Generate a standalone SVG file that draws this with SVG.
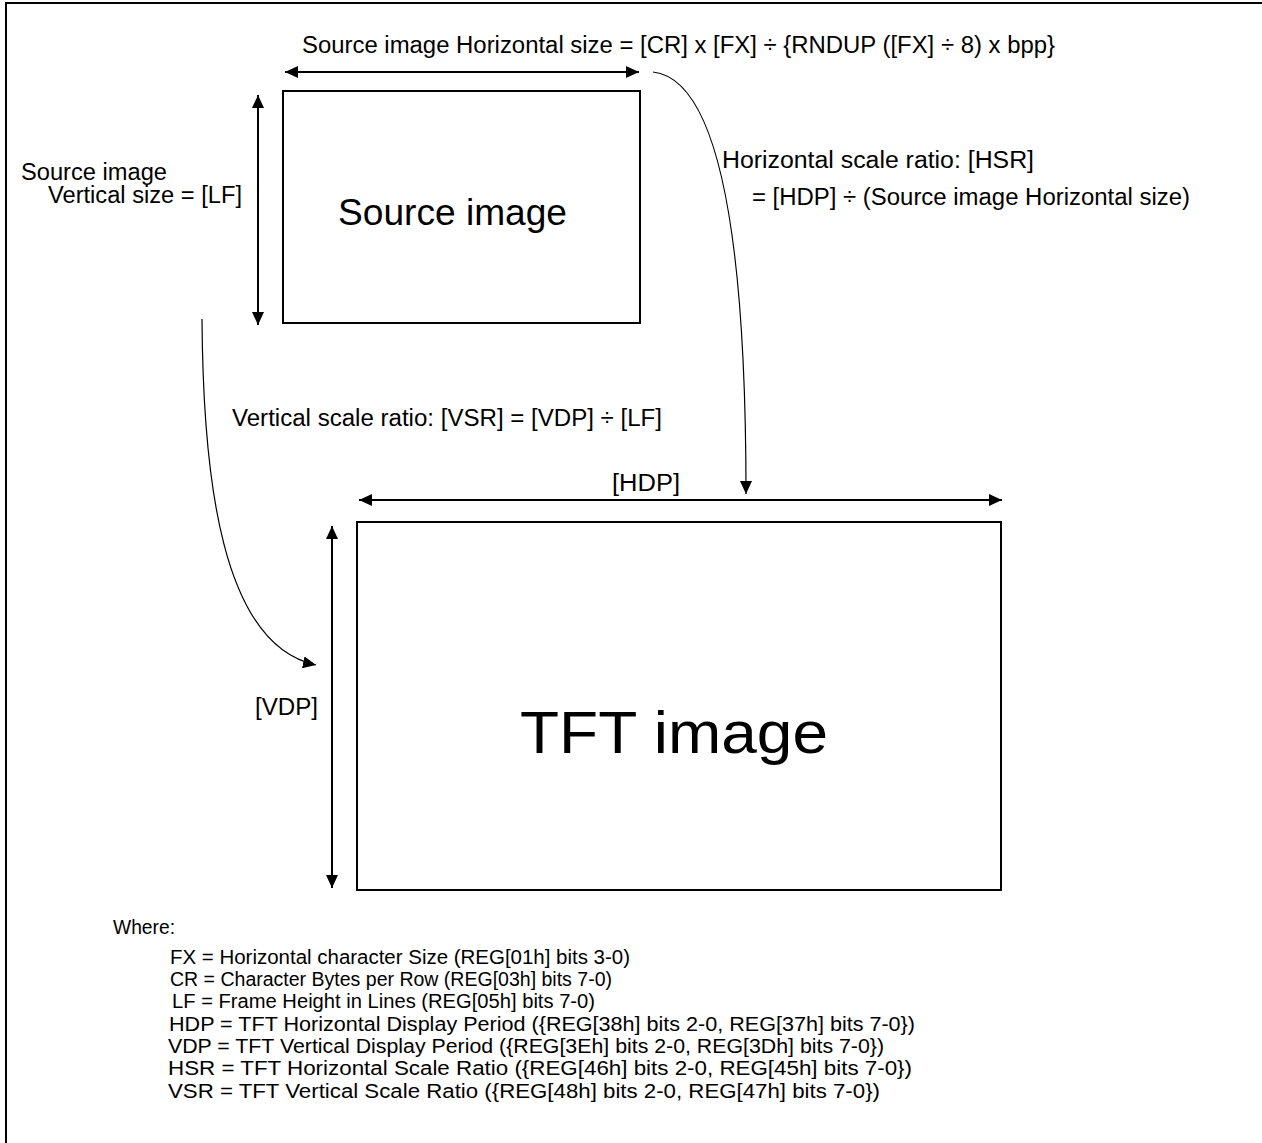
<svg xmlns="http://www.w3.org/2000/svg" width="1262" height="1143" viewBox="0 0 1262 1143">
<style>
  text { font-family: "Liberation Sans", Arial, sans-serif; fill: #000; }
  .lbl { font-size: 23px; }
  .lst { font-size: 20px; }
  .box { fill: #fff; stroke: #000; stroke-width: 2; }
  .dim { fill: none; stroke: #000; stroke-width: 2; }
  .crv { fill: none; stroke: #000; stroke-width: 1.2; }
</style>
<defs>
  <marker id="ah" markerUnits="userSpaceOnUse" markerWidth="14" markerHeight="12" refX="13" refY="6" orient="auto-start-reverse" viewBox="0 0 14 12">
    <path d="M0,0 L13,6 L0,12 z" fill="#000"/>
  </marker>
</defs>
<rect x="0" y="0" width="1262" height="1143" fill="#fff"/>
<g id="frame">
  <line x1="5" y1="3" x2="1262" y2="3" stroke="#000" stroke-width="2"/>
  <line x1="6" y1="3" x2="6" y2="1143" stroke="#000" stroke-width="2"/>
</g>
<g id="source-image">
  <rect class="box" x="283" y="91" width="357" height="232"/>
  <text x="338" y="225" font-size="36" textLength="229" lengthAdjust="spacingAndGlyphs">Source image</text>
</g>
<g id="tft-image">
  <rect class="box" x="357" y="522" width="644" height="368"/>
  <text x="520" y="753" font-size="60" textLength="308" lengthAdjust="spacingAndGlyphs">TFT image</text>
</g>
<g id="connectors">
  <line class="dim" x1="285" y1="72" x2="639" y2="72" marker-start="url(#ah)" marker-end="url(#ah)"/>
  <line class="dim" x1="258" y1="95" x2="258" y2="325" marker-start="url(#ah)" marker-end="url(#ah)"/>
  <line class="dim" x1="359" y1="500" x2="1002" y2="500" marker-start="url(#ah)" marker-end="url(#ah)"/>
  <line class="dim" x1="332" y1="526" x2="332" y2="888" marker-start="url(#ah)" marker-end="url(#ah)"/>
  <path class="crv" d="M653,72 C708,78 746,190 746,494" marker-end="url(#ah)"/>
  <path class="crv" d="M202,319 C203,480 222,645 316,665" marker-end="url(#ah)"/>
</g>
<g id="labels">
  <text class="lbl" x="302" y="53" textLength="753" lengthAdjust="spacingAndGlyphs">Source image Horizontal size = [CR] x [FX] ÷ {RNDUP ([FX] ÷ 8) x bpp}</text>
  <text class="lbl" x="21" y="180" textLength="146" lengthAdjust="spacingAndGlyphs">Source image</text>
  <text class="lbl" x="48" y="203" textLength="194" lengthAdjust="spacingAndGlyphs">Vertical size = [LF]</text>
  <text class="lbl" x="722" y="168" textLength="312" lengthAdjust="spacingAndGlyphs">Horizontal scale ratio: [HSR]</text>
  <text class="lbl" x="752" y="205" textLength="438" lengthAdjust="spacingAndGlyphs">= [HDP] ÷ (Source image Horizontal size)</text>
  <text class="lbl" x="232" y="426" textLength="430" lengthAdjust="spacingAndGlyphs">Vertical scale ratio: [VSR] = [VDP] ÷ [LF]</text>
  <text class="lbl" x="612" y="491" textLength="68" lengthAdjust="spacingAndGlyphs">[HDP]</text>
  <text class="lbl" x="255" y="715" textLength="63" lengthAdjust="spacingAndGlyphs">[VDP]</text>
</g>
<g id="legend">
  <text class="lst" x="113" y="934" textLength="62" lengthAdjust="spacingAndGlyphs">Where:</text>
  <text class="lst" x="170" y="964" textLength="460" lengthAdjust="spacingAndGlyphs">FX = Horizontal character Size (REG[01h] bits 3-0)</text>
  <text class="lst" x="170" y="986" textLength="442" lengthAdjust="spacingAndGlyphs">CR = Character Bytes per Row (REG[03h] bits 7-0)</text>
  <text class="lst" x="172" y="1008" textLength="423" lengthAdjust="spacingAndGlyphs">LF = Frame Height in Lines (REG[05h] bits 7-0)</text>
  <text class="lst" x="169" y="1031" textLength="746" lengthAdjust="spacingAndGlyphs">HDP = TFT Horizontal Display Period ({REG[38h] bits 2-0, REG[37h] bits 7-0})</text>
  <text class="lst" x="168" y="1053" textLength="716" lengthAdjust="spacingAndGlyphs">VDP = TFT Vertical Display Period ({REG[3Eh] bits 2-0, REG[3Dh] bits 7-0})</text>
  <text class="lst" x="168" y="1075" textLength="744" lengthAdjust="spacingAndGlyphs">HSR = TFT Horizontal Scale Ratio ({REG[46h] bits 2-0, REG[45h] bits 7-0})</text>
  <text class="lst" x="168" y="1098" textLength="712" lengthAdjust="spacingAndGlyphs">VSR = TFT Vertical Scale Ratio ({REG[48h] bits 2-0, REG[47h] bits 7-0})</text>
</g>
</svg>
